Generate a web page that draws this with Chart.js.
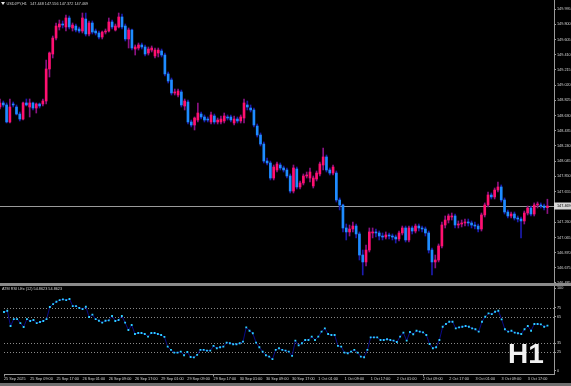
<!DOCTYPE html>
<html><head><meta charset="utf-8">
<script src="https://cdn.jsdelivr.net/npm/chart.js@4.4.1/dist/chart.umd.min.js"></script>
<style>
html,body{margin:0;padding:0;background:#000;width:571px;height:386px;overflow:hidden;}
canvas{position:absolute;left:0;}
#main{top:0}
#rsi{top:280px}
.sep{position:absolute;left:0;width:571px;}
</style></head><body>
<canvas id="main" width="571" height="286"></canvas>
<canvas id="rsi" width="571" height="106"></canvas>
<div class="sep" style="top:283px;height:3px;background:#8a8a8a"></div>
<div class="sep" style="top:383px;height:3px;background:#6e6e6e"></div>
<script>
const symbolTitle = 'USDJPY,H1';
const rsiTitle = 'ATM RSI LEx (12)';
const timeframeMark = 'H1';

const open = [148.739,148.791,148.765,148.547,148.778,148.739,148.649,148.585,148.791,148.739,148.791,148.726,148.778,148.778,148.816,149.227,149.419,149.624,149.766,149.804,149.766,149.881,149.753,149.778,149.740,149.714,149.868,149.676,149.817,149.714,149.689,149.637,149.701,149.714,149.830,149.727,149.766,149.894,149.778,149.612,149.727,149.483,149.496,149.535,149.509,149.432,149.470,149.394,149.432,149.458,149.406,149.163,149.086,148.919,148.893,148.932,148.752,148.803,148.547,148.508,148.572,148.649,148.611,148.585,148.547,148.624,148.547,148.547,148.560,148.611,148.611,148.534,148.585,148.560,148.598,148.765,148.726,148.701,148.495,148.380,148.264,148.046,148.021,147.828,147.931,147.995,147.957,147.931,147.854,147.661,147.944,147.713,147.764,147.854,147.828,147.726,147.815,147.880,147.995,148.098,147.931,147.892,147.892,147.546,147.482,147.187,147.136,147.174,147.212,147.110,146.840,146.751,146.904,147.123,147.136,147.123,147.084,147.071,147.097,147.084,147.071,147.046,147.123,147.187,147.033,147.187,147.148,147.212,147.187,147.174,147.123,146.904,146.751,146.776,146.956,147.225,147.289,147.328,147.341,147.225,147.238,147.251,147.264,147.251,147.225,147.212,147.174,147.354,147.482,147.610,147.585,147.674,147.713,147.546,147.392,147.341,147.366,147.315,147.302,147.277,147.379,147.443,147.366,147.482,147.482,147.469,147.448];
const high = [148.842,148.816,148.791,148.842,148.803,148.765,148.675,148.803,148.842,148.842,148.803,148.791,148.791,148.842,149.342,149.445,149.650,149.817,149.855,149.843,149.920,149.907,149.817,149.804,149.766,149.945,149.945,149.843,149.843,149.740,149.714,149.714,149.740,149.881,149.855,149.804,149.945,149.932,149.804,149.753,149.740,149.535,149.560,149.560,149.535,149.509,149.522,149.496,149.496,149.483,149.432,149.188,149.111,148.970,148.970,148.957,148.842,148.829,148.572,148.611,148.791,148.675,148.637,148.611,148.675,148.649,148.598,148.624,148.662,148.637,148.637,148.624,148.611,148.637,148.842,148.816,148.765,148.726,148.521,148.406,148.290,148.085,148.046,147.995,148.033,148.021,147.982,147.957,147.880,147.995,147.969,147.790,147.880,147.905,147.957,147.854,147.918,148.033,148.213,148.123,147.957,147.995,147.918,147.572,147.495,147.238,147.225,147.264,147.238,147.136,146.904,146.969,147.187,147.187,147.174,147.148,147.123,147.136,147.123,147.110,147.097,147.148,147.212,147.212,147.212,147.212,147.238,147.238,147.212,147.200,147.148,146.930,146.840,146.982,147.264,147.341,147.366,147.379,147.366,147.277,147.289,147.302,147.302,147.277,147.264,147.238,147.379,147.508,147.649,147.636,147.700,147.777,147.739,147.572,147.418,147.392,147.392,147.341,147.328,147.405,147.469,147.469,147.508,147.520,147.508,147.495,147.556];
const low = [148.714,148.739,148.534,148.534,148.739,148.637,148.560,148.572,148.752,148.611,148.701,148.662,148.726,148.752,148.778,149.124,149.368,149.599,149.727,149.753,149.714,149.740,149.714,149.701,149.689,149.689,149.650,149.650,149.676,149.663,149.612,149.612,149.676,149.701,149.740,149.714,149.753,149.740,149.586,149.496,149.470,149.406,149.470,149.483,149.394,149.406,149.445,149.368,149.381,149.381,149.137,149.047,148.893,148.893,148.867,148.739,148.701,148.521,148.483,148.444,148.547,148.585,148.547,148.547,148.521,148.521,148.521,148.521,148.534,148.572,148.547,148.508,148.534,148.534,148.534,148.701,148.675,148.483,148.354,148.239,148.021,147.995,147.803,147.803,147.905,147.931,147.905,147.828,147.636,147.636,147.687,147.687,147.739,147.828,147.777,147.700,147.790,147.854,147.931,147.905,147.867,147.867,147.520,147.418,147.136,147.033,147.084,147.136,147.059,146.776,146.584,146.699,146.879,147.059,147.071,147.033,147.033,147.046,147.046,147.033,146.994,147.020,147.097,147.007,147.007,147.110,147.123,147.148,147.136,147.084,146.866,146.584,146.674,146.751,146.930,147.187,147.251,147.289,147.187,147.187,147.200,147.212,147.212,147.187,147.174,147.136,147.148,147.328,147.456,147.559,147.559,147.649,147.520,147.366,147.315,147.315,147.289,147.264,147.059,147.238,147.354,147.341,147.341,147.443,147.443,147.418,147.372];
const close = [148.791,148.765,148.547,148.739,148.765,148.649,148.585,148.791,148.765,148.791,148.726,148.778,148.752,148.816,149.227,149.432,149.624,149.778,149.804,149.791,149.881,149.766,149.791,149.727,149.714,149.881,149.676,149.817,149.701,149.689,149.637,149.701,149.714,149.830,149.766,149.778,149.894,149.766,149.612,149.727,149.496,149.509,149.535,149.509,149.419,149.483,149.496,149.470,149.470,149.406,149.163,149.073,148.919,148.932,148.944,148.765,148.816,148.547,148.508,148.598,148.662,148.611,148.572,148.572,148.637,148.547,148.572,148.585,148.624,148.598,148.572,148.585,148.560,148.611,148.791,148.739,148.701,148.508,148.380,148.264,148.046,148.021,147.828,147.969,148.008,147.957,147.931,147.854,147.661,147.957,147.713,147.764,147.854,147.867,147.905,147.828,147.892,148.008,148.098,147.931,147.892,147.969,147.546,147.482,147.187,147.136,147.174,147.212,147.110,146.840,146.751,146.904,147.136,147.136,147.123,147.084,147.071,147.097,147.084,147.071,147.046,147.123,147.187,147.033,147.187,147.148,147.212,147.187,147.174,147.123,146.904,146.751,146.776,146.956,147.225,147.289,147.341,147.341,147.225,147.238,147.251,147.264,147.251,147.225,147.212,147.174,147.354,147.482,147.610,147.585,147.674,147.713,147.546,147.392,147.341,147.366,147.315,147.302,147.277,147.379,147.443,147.366,147.482,147.488,147.469,147.448,147.469];
const rsi = [70.2,71.6,54.5,62.3,62.3,57.8,53.4,62.3,60.1,61.2,57.8,59.0,60.1,62.3,75.8,79.1,81.7,83.6,84.4,83.6,84.8,76.9,76.9,74.7,73.5,76.1,64.6,67.2,62.3,60.4,58.2,60.4,60.9,65.7,60.1,61.2,65.7,58.2,50.0,55.6,45.5,46.6,46.6,45.5,42.5,46.6,46.6,45.5,44.4,42.2,31.3,27.6,24.6,24.6,25.7,21.6,25.3,19.7,19.2,22.0,27.6,27.6,26.8,26.8,32.1,29.5,30.6,31.3,35.8,35.1,34.0,34.0,35.1,36.9,53.0,49.2,46.3,35.8,30.6,25.7,21.6,20.1,17.2,27.6,29.5,27.6,26.8,25.7,20.9,38.0,32.8,35.1,38.8,38.8,42.5,38.8,42.5,48.1,51.9,45.5,44.4,44.4,32.1,31.3,24.6,23.9,25.7,27.6,24.6,20.1,19.4,27.6,41.8,41.8,41.8,38.8,38.8,39.6,38.8,38.0,36.5,42.5,47.0,38.0,47.8,45.2,49.2,48.1,47.4,44.4,34.3,29.5,30.6,38.8,53.7,56.7,59.3,59.3,51.9,53.0,53.7,54.5,53.7,51.9,50.8,48.1,59.3,64.9,68.7,67.9,70.5,71.6,62.0,50.8,48.1,49.2,47.0,46.3,45.5,50.8,54.5,49.2,56.7,56.7,56.4,53.7,54.8623];

const priceTicks = [149.995,149.800,149.605,149.410,149.215,149.020,148.825,148.630,148.435,148.240,148.045,147.850,147.655,147.260,147.065,146.870,146.675,146.485];
const rsiLevels = [75, 65, 35, 25];
const rsiAxisLabels = ['100','75','65','35','25','0'];
const timeTicks = ['25 Sep 2025','25 Sep 09:00','25 Sep 17:00','26 Sep 01:00','26 Sep 09:00','26 Sep 17:00','29 Sep 01:00','29 Sep 09:00','29 Sep 17:00','30 Sep 01:00','30 Sep 09:00','30 Sep 17:00','1 Oct 01:00','1 Oct 09:00','1 Oct 17:00','2 Oct 01:00','2 Oct 09:00','2 Oct 17:00','3 Oct 01:00','3 Oct 09:00','3 Oct 17:00'];
const labelEvery = 8;
const slotCount = 169;

const cats = Array.from({length: slotCount}, (_, i) => String(i));
const last = close.length - 1;
const FONT = 'Liberation Sans';
const txtCol = '#d4d4d4';
const axisCol = '#9a9a9a';
const bullBody = '#ff1070', bearBody = '#1e8cff';
const bullWick = '#8c1282', bearWick = '#1c1cae';
const isBull = i => close[i] >= open[i];

const mainOverlay = {
  id: 'mainOverlay',
  beforeDatasetsDraw(chart) {
    const {ctx, chartArea, scales} = chart;
    const y = Math.round(scales.y.getPixelForValue(close[last])) + 0.5;
    ctx.save();
    ctx.strokeStyle = '#9a9a9a'; ctx.lineWidth = 1;
    ctx.beginPath(); ctx.moveTo(chartArea.left, y); ctx.lineTo(chartArea.right, y); ctx.stroke();
    ctx.restore();
  },
  afterDraw(chart) {
    const {ctx, chartArea, scales} = chart;
    const y = scales.y.getPixelForValue(close[last]);
    ctx.save();
    ctx.fillStyle = '#d8d8d8';
    ctx.fillRect(chartArea.right, y - 3.5, 17, 7);
    ctx.fillStyle = '#000';
    ctx.font = '3.8px "' + FONT + '"';
    ctx.textBaseline = 'middle';
    ctx.fillText(close[last].toFixed(3), chartArea.right + 3, y);
    ctx.fillStyle = '#e8e8e8';
    ctx.beginPath(); ctx.moveTo(1, 2); ctx.lineTo(5, 2); ctx.lineTo(3, 5); ctx.closePath(); ctx.fill();
    ctx.fillStyle = txtCol;
    ctx.fillText(symbolTitle + '   ' + [open[last], high[last], low[last], close[last]].map(v => v.toFixed(3)).join(' '), 6.5, 3.5);
    ctx.restore();
  }
};

new Chart(document.getElementById('main'), {
  type: 'bar',
  data: {
    labels: cats,
    datasets: [
      { label: 'body', data: open.map((o, i) => [o, close[i]]), barThickness: 2, minBarLength: 1,
        backgroundColor: c => isBull(c.dataIndex) ? bullBody : bearBody, borderWidth: 0, grouped: false, order: 0 },
      { label: 'wick', data: high.map((h, i) => [low[i], h]), barThickness: 1,
        backgroundColor: c => isBull(c.dataIndex) ? bullWick : bearWick, borderWidth: 0, grouped: false, order: 1 }
    ]
  },
  options: {
    animation: false, responsive: false, devicePixelRatio: 1,
    layout: { padding: { top: 0, left: 0, right: 0, bottom: 3 } },
    plugins: { legend: { display: false }, tooltip: { enabled: false } },
    scales: {
      x: { type: 'category', offset: false, display: false },
      y: {
        position: 'right', min: 146.481, max: 150.112,
        afterBuildTicks: s => { s.ticks = priceTicks.map(v => ({ value: v })); },
        afterFit: s => { s.width = 17; s.paddingTop = 0; s.paddingBottom = 0; },
        ticks: { color: txtCol, font: { family: FONT, size: 3.8 }, padding: 1, callback: v => Number(v).toFixed(3) },
        grid: { drawOnChartArea: false, tickLength: 2, color: axisCol },
        border: { color: axisCol, width: 1 }
      }
    }
  },
  plugins: [mainOverlay]
});

const rsiOverlay = {
  id: 'rsiOverlay',
  beforeDatasetsDraw(chart) {
    const {ctx, chartArea, scales} = chart;
    ctx.save();
    ctx.strokeStyle = '#8a8a8a'; ctx.lineWidth = 1; ctx.setLineDash([1, 2]);
    rsiLevels.forEach(l => {
      const y = Math.round(scales.y.getPixelForValue(l)) + 0.5;
      ctx.beginPath(); ctx.moveTo(chartArea.left, y); ctx.lineTo(chartArea.right, y); ctx.stroke();
    });
    ctx.restore();
  },
  afterDraw(chart) {
    const {ctx} = chart;
    ctx.save();
    ctx.fillStyle = txtCol;
    ctx.font = '3.8px "' + FONT + '"';
    ctx.textBaseline = 'middle';
    ctx.fillText(rsiTitle + ' ' + rsi[last].toFixed(4) + ' ' + rsi[last].toFixed(4), 2, 9);
    ctx.fillStyle = '#f2f2f2';
    ctx.font = 'bold 28px "' + FONT + '"';
    ctx.textBaseline = 'alphabetic';
    ctx.fillText(timeframeMark, 508, 83);
    ctx.restore();
  }
};

new Chart(document.getElementById('rsi'), {
  type: 'line',
  data: {
    labels: cats,
    datasets: [{ data: rsi, borderColor: '#0a0a86', borderWidth: 1, pointStyle: 'rect', pointRadius: 1.3,
      pointBackgroundColor: '#2cd0ff', pointBorderWidth: 0, tension: 0 }]
  },
  options: {
    animation: false, responsive: false, devicePixelRatio: 1,
    layout: { padding: { top: 5.5, left: 0, right: 0, bottom: 0 } },
    plugins: { legend: { display: false }, tooltip: { enabled: false } },
    scales: {
      x: {
        type: 'category', offset: false,
        afterFit: s => { s.height = 11.5; s.paddingLeft = 0; s.paddingRight = 0; },
        ticks: { autoSkip: false, maxRotation: 0, minRotation: 0, align: 'start', color: txtCol, padding: 0.5,
          font: { family: FONT, size: 3.8 },
          callback: (v, i) => (i % labelEvery === 0 && timeTicks[i / labelEvery]) ? timeTicks[i / labelEvery] : null },
        grid: { drawOnChartArea: false, tickLength: 2, color: c => (c.index % labelEvery === 0) ? axisCol : 'rgba(0,0,0,0)' },
        border: { color: axisCol, width: 1 }
      },
      y: {
        position: 'right', min: 0, max: 100,
        afterBuildTicks: s => { s.ticks = [97, 75, 65, 35, 25, 4].map(v => ({ value: v })); },
        afterFit: s => { s.width = 17; s.paddingTop = 0; s.paddingBottom = 0; },
        ticks: { color: txtCol, font: { family: FONT, size: 3.8 }, padding: 1, callback: (v, i) => rsiAxisLabels[i] },
        grid: { drawOnChartArea: false, tickLength: 2, color: axisCol },
        border: { color: axisCol, width: 1 }
      }
    }
  },
  plugins: [rsiOverlay]
});
</script>
</body></html>
